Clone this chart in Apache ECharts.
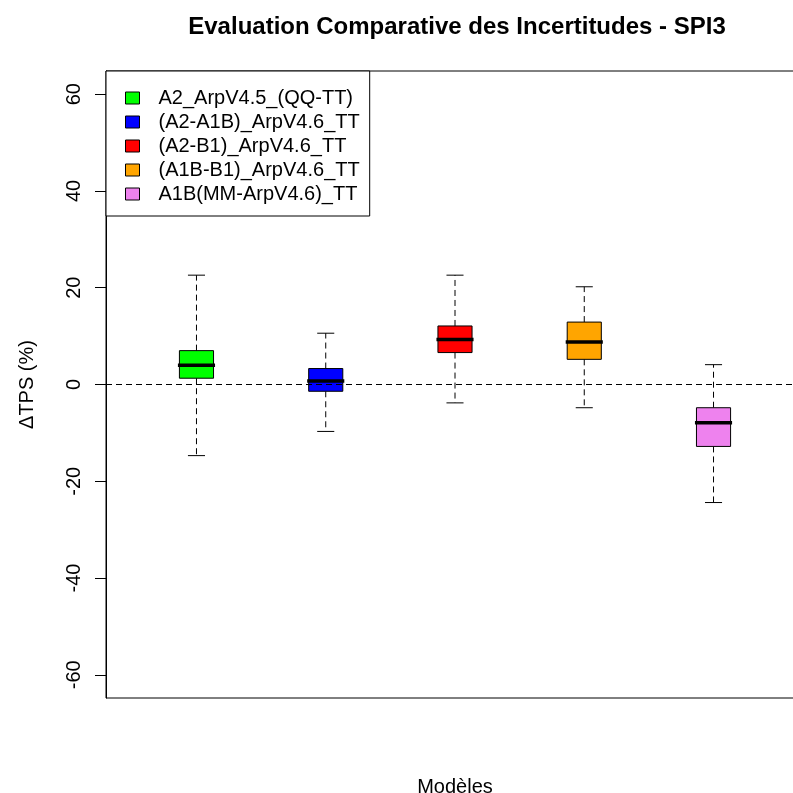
<!DOCTYPE html>
<html>
<head>
<meta charset="utf-8">
<script src="https://cdn.jsdelivr.net/npm/echarts@6/dist/echarts.min.js"></script>
<style>
html,body{margin:0;padding:0;background:#fff;}
#c{width:793px;height:793px;}
</style>
</head>
<body>
<div id="c"></div>
<script>
// ---- data ----
var categories = ['A2_ArpV4.5_(QQ-TT)', '(A2-A1B)_ArpV4.6_TT', '(A2-B1)_ArpV4.6_TT', '(A1B-B1)_ArpV4.6_TT', 'A1B(MM-ArpV4.6)_TT'];
var lowWhisker = [-14.7, -9.7, -3.8, -4.8, -24.4];
var q1 = [1.3, -1.4, 6.6, 5.2, -12.8];
var median = [4.0, 0.7, 9.3, 8.8, -7.9];
var q3 = [7.0, 3.3, 12.1, 12.9, -4.8];
var highWhisker = [22.6, 10.6, 22.6, 20.2, 4.1];
var boxColors = ['#00FF00', '#0000FF', '#FF0000', '#FFA500', '#EE82EE'];
var yTicks = [-60, -40, -20, 0, 20, 40, 60];

var FONT = 'Liberation Sans, Arial, sans-serif';

function renderBox(params, api) {
  var x = api.value(0);
  var lo = api.coord([x, api.value(1)]);
  var b1 = api.coord([x, api.value(2)]);
  var md = api.coord([x, api.value(3)]);
  var b3 = api.coord([x, api.value(4)]);
  var hi = api.coord([x, api.value(5)]);
  var cx = lo[0];
  var hw = api.size([1, 0])[0] * 0.132;
  var cw = hw / 2;
  var color = api.visual('color');
  var dash = { stroke: '#000', lineWidth: 1, lineDash: [6, 4] };
  var solid = { stroke: '#000', lineWidth: 1 };
  return {
    type: 'group',
    children: [
      { type: 'line', shape: { x1: cx, y1: b3[1], x2: cx, y2: hi[1] }, style: dash },
      { type: 'line', shape: { x1: cx, y1: b1[1], x2: cx, y2: lo[1] }, style: dash },
      { type: 'line', shape: { x1: cx - cw, y1: hi[1], x2: cx + cw, y2: hi[1] }, style: solid },
      { type: 'line', shape: { x1: cx - cw, y1: lo[1], x2: cx + cw, y2: lo[1] }, style: solid },
      { type: 'rect', shape: { x: cx - hw, y: b3[1], width: hw * 2, height: b1[1] - b3[1] },
        style: { fill: color, stroke: '#000', lineWidth: 1 } },
      { type: 'line', shape: { x1: cx - hw - 1.5, y1: md[1], x2: cx + hw + 1.5, y2: md[1] },
        style: { stroke: '#000', lineWidth: 3.5 } }
    ]
  };
}

var series = categories.map(function (name, i) {
  var s = {
    name: name,
    type: 'custom',
    renderItem: renderBox,
    itemStyle: { color: boxColors[i] },
    encode: { x: 0, y: [1, 2, 3, 4, 5] },
    data: [[i + 1, lowWhisker[i], q1[i], median[i], q3[i], highWhisker[i]]],
    z: 2
  };
  if (i === categories.length - 1) {
    s.markLine = {
      silent: true,
      symbol: ['none', 'none'],
      label: { show: false },
      lineStyle: { color: '#000', width: 1, type: [6, 4] },
      data: [{ yAxis: 0 }],
      z: 3
    };
  }
  return s;
});

var chart = echarts.init(document.getElementById('c'), null, { renderer: 'canvas' });
chart.setOption({
  animation: false,
  backgroundColor: '#fff',
  title: {
    text: 'Evaluation Comparative des Incertitudes - SPI3',
    left: 457,
    top: 15,
    textAlign: 'center',
    padding: 0,
    textStyle: { fontFamily: FONT, fontWeight: 'bold', fontSize: 24, color: '#000' }
  },
  legend: {
    orient: 'vertical',
    left: 106,
    top: 71,
    data: categories,
    icon: 'rect',
    itemWidth: 14,
    itemHeight: 12,
    itemGap: 4,
    padding: [17, 10, 12, 19],
    backgroundColor: '#fff',
    borderColor: '#000',
    borderWidth: 1,
    borderRadius: 0,
    itemStyle: { borderColor: '#000', borderWidth: 1 },
    selectedMode: false,
    textStyle: { fontFamily: FONT, fontSize: 20, color: '#000', lineHeight: 20, padding: [0, 0, 0, 14] },
    z: 10
  },
  grid: {
    left: 106,
    top: 71,
    width: 698,
    height: 627,
    outerBoundsMode: 'none',
    containLabel: false,
    show: true,
    borderColor: '#000',
    borderWidth: 1,
    backgroundColor: 'transparent'
  },
  xAxis: {
    type: 'value',
    min: 0.3,
    max: 5.7,
    name: 'Modèles',
    nameLocation: 'middle',
    nameGap: 79,
    nameTextStyle: { fontFamily: FONT, fontSize: 20, color: '#000' },
    axisLine: { show: false },
    axisTick: { show: false },
    axisLabel: { show: false },
    splitLine: { show: false }
  },
  yAxis: {
    type: 'value',
    min: -64.8,
    max: 64.8,
    name: 'ΔTPS (%)',
    nameLocation: 'middle',
    nameRotate: 90,
    nameGap: 69,
    nameTextStyle: { fontFamily: FONT, fontSize: 20, color: '#000' },
    axisLine: { show: true, lineStyle: { color: '#000', width: 1 } },
    axisTick: { show: true, length: 11, customValues: yTicks, lineStyle: { color: '#000', width: 1 } },
    axisLabel: {
      customValues: yTicks,
      rotate: 90,
      margin: 22,
      fontFamily: FONT,
      fontSize: 20,
      color: '#000'
    },
    splitLine: { show: false }
  },
  series: series
});
</script>
</body>
</html>
